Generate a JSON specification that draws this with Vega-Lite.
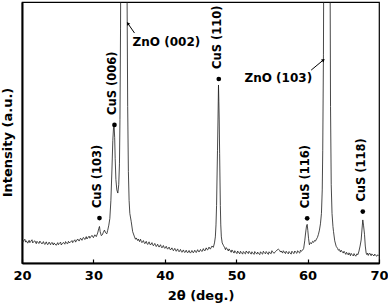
{
  "$schema": "https://vega.github.io/schema/vega-lite/v6.json",
  "width": 357,
  "height": 261,
  "autosize": {"type": "none"},
  "padding": {"left": 22, "top": 2, "right": 9, "bottom": 41},
  "background": "white",
  "config": {
    "view": {"stroke": "black", "strokeWidth": 1.2},
    "font": "DejaVu Sans"
  },
  "datasets": {
    "spectrum": [
      {"angle":20.0,"intensity":8.6},{"angle":20.1,"intensity":7.9},{"angle":20.2,"intensity":8.4},{"angle":20.4,"intensity":9.1},{"angle":20.5,"intensity":8.0},{"angle":20.6,"intensity":8.5},{"angle":20.8,"intensity":7.6},
      {"angle":21.0,"intensity":8.7},{"angle":21.1,"intensity":7.8},{"angle":21.2,"intensity":8.2},{"angle":21.4,"intensity":8.9},{"angle":21.5,"intensity":7.7},{"angle":21.6,"intensity":8.1},{"angle":21.8,"intensity":8.5},
      {"angle":22.0,"intensity":7.4},{"angle":22.1,"intensity":8.3},{"angle":22.2,"intensity":7.9},{"angle":22.4,"intensity":7.5},{"angle":22.5,"intensity":8.4},{"angle":22.6,"intensity":8.0},{"angle":22.8,"intensity":7.3},
      {"angle":23.0,"intensity":8.2},{"angle":23.1,"intensity":7.5},{"angle":23.2,"intensity":7.1},{"angle":23.4,"intensity":8.1},{"angle":23.5,"intensity":7.4},{"angle":23.6,"intensity":7.0},{"angle":23.8,"intensity":8.0},
      {"angle":24.0,"intensity":7.0},{"angle":24.1,"intensity":7.6},{"angle":24.2,"intensity":7.9},{"angle":24.4,"intensity":6.9},{"angle":24.5,"intensity":7.7},{"angle":24.6,"intensity":7.3},{"angle":24.8,"intensity":6.8},
      {"angle":25.0,"intensity":7.8},{"angle":25.1,"intensity":7.0},{"angle":25.2,"intensity":7.4},{"angle":25.4,"intensity":8.0},{"angle":25.5,"intensity":6.9},{"angle":25.6,"intensity":7.3},{"angle":25.8,"intensity":7.9},
      {"angle":26.0,"intensity":7.2},{"angle":26.1,"intensity":8.2},{"angle":26.2,"intensity":7.7},{"angle":26.4,"intensity":7.4},{"angle":26.5,"intensity":8.3},{"angle":26.6,"intensity":7.8},{"angle":26.8,"intensity":8.0},
      {"angle":27.0,"intensity":8.6},{"angle":27.1,"intensity":7.8},{"angle":27.2,"intensity":8.3},{"angle":27.4,"intensity":8.9},{"angle":27.5,"intensity":8.0},{"angle":27.6,"intensity":8.4},{"angle":27.8,"intensity":9.2},
      {"angle":28.0,"intensity":8.4},{"angle":28.1,"intensity":9.0},{"angle":28.2,"intensity":9.5},{"angle":28.4,"intensity":8.7},{"angle":28.5,"intensity":9.4},{"angle":28.6,"intensity":9.8},{"angle":28.8,"intensity":9.0},
      {"angle":29.0,"intensity":10.1},{"angle":29.1,"intensity":9.2},{"angle":29.2,"intensity":9.6},{"angle":29.4,"intensity":10.3},{"angle":29.5,"intensity":9.5},{"angle":29.6,"intensity":9.9},{"angle":29.8,"intensity":10.6},
      {"angle":30.0,"intensity":9.7},{"angle":30.1,"intensity":10.3},{"angle":30.2,"intensity":10.8},{"angle":30.4,"intensity":10.1},{"angle":30.6,"intensity":11.5},{"angle":30.75,"intensity":13.2},
      {"angle":30.85,"intensity":14.0},{"angle":30.95,"intensity":12.0},{"angle":31.1,"intensity":10.5},{"angle":31.25,"intensity":10.8},{"angle":31.4,"intensity":11.8},
      {"angle":31.55,"intensity":12.6},{"angle":31.7,"intensity":11.6},{"angle":31.88,"intensity":11.2},{"angle":32.0,"intensity":12.5},{"angle":32.16,"intensity":14.5},
      {"angle":32.3,"intensity":17},{"angle":32.45,"intensity":24},{"angle":32.6,"intensity":36},{"angle":32.72,"intensity":47},{"angle":32.82,"intensity":52},
      {"angle":32.9,"intensity":52.5},{"angle":32.98,"intensity":48},{"angle":33.05,"intensity":40},{"angle":33.15,"intensity":32},{"angle":33.28,"intensity":28},
      {"angle":33.42,"intensity":26.8},{"angle":33.55,"intensity":30},{"angle":33.65,"intensity":38},{"angle":33.72,"intensity":55},{"angle":33.8,"intensity":90},
      {"angle":33.88,"intensity":150},{"angle":34.0,"intensity":220},{"angle":34.3,"intensity":260},{"angle":34.6,"intensity":200},{"angle":34.7,"intensity":110},
      {"angle":34.8,"intensity":60},{"angle":34.9,"intensity":35},{"angle":35.0,"intensity":24},{"angle":35.1,"intensity":19},{"angle":35.29,"intensity":16},
      {"angle":35.5,"intensity":12},{"angle":35.76,"intensity":10},{"angle":35.9,"intensity":9.1},{"angle":36.0,"intensity":9.6},{"angle":36.2,"intensity":8.6},{"angle":36.3,"intensity":9.2},{"angle":36.46,"intensity":8.2},
      {"angle":36.6,"intensity":9.1},{"angle":36.7,"intensity":8.3},{"angle":36.8,"intensity":7.8},{"angle":37.0,"intensity":8.6},{"angle":37.1,"intensity":7.9},{"angle":37.2,"intensity":7.4},{"angle":37.4,"intensity":8.3},{"angle":37.5,"intensity":7.5},
      {"angle":37.6,"intensity":7.1},{"angle":37.8,"intensity":8.1},{"angle":37.9,"intensity":7.3},{"angle":38.0,"intensity":6.9},{"angle":38.2,"intensity":7.8},{"angle":38.3,"intensity":7.0},{"angle":38.4,"intensity":6.6},
      {"angle":38.6,"intensity":7.5},{"angle":38.7,"intensity":6.8},{"angle":38.8,"intensity":6.3},{"angle":39.0,"intensity":7.2},{"angle":39.1,"intensity":6.5},{"angle":39.2,"intensity":6.1},{"angle":39.4,"intensity":7.0},
      {"angle":39.5,"intensity":6.3},{"angle":39.6,"intensity":5.8},{"angle":39.8,"intensity":6.7},{"angle":39.9,"intensity":6.0},{"angle":40.0,"intensity":5.6},{"angle":40.2,"intensity":6.4},{"angle":40.3,"intensity":5.7},{"angle":40.4,"intensity":5.3},
      {"angle":40.6,"intensity":6.1},{"angle":40.7,"intensity":5.4},{"angle":40.8,"intensity":5.0},{"angle":41.0,"intensity":5.8},{"angle":41.1,"intensity":5.2},{"angle":41.2,"intensity":4.7},{"angle":41.4,"intensity":5.6},
      {"angle":41.5,"intensity":4.9},{"angle":41.6,"intensity":4.5},{"angle":41.8,"intensity":5.4},{"angle":41.9,"intensity":4.7},{"angle":42.0,"intensity":4.3},{"angle":42.2,"intensity":5.2},{"angle":42.3,"intensity":4.5},{"angle":42.4,"intensity":4.1},
      {"angle":42.6,"intensity":5.0},{"angle":42.7,"intensity":4.4},{"angle":42.8,"intensity":4.0},{"angle":43.0,"intensity":4.9},{"angle":43.1,"intensity":4.2},{"angle":43.2,"intensity":3.9},{"angle":43.4,"intensity":4.8},
      {"angle":43.5,"intensity":4.1},{"angle":43.6,"intensity":3.8},{"angle":43.8,"intensity":4.8},{"angle":43.9,"intensity":4.2},{"angle":44.0,"intensity":3.9},{"angle":44.2,"intensity":4.9},{"angle":44.3,"intensity":4.3},{"angle":44.4,"intensity":4.0},
      {"angle":44.6,"intensity":5.1},{"angle":44.7,"intensity":4.5},{"angle":44.8,"intensity":4.2},{"angle":45.0,"intensity":5.2},{"angle":45.1,"intensity":4.7},{"angle":45.2,"intensity":4.4},{"angle":45.4,"intensity":5.5},
      {"angle":45.5,"intensity":4.9},{"angle":45.6,"intensity":4.6},{"angle":45.8,"intensity":5.8},{"angle":45.9,"intensity":5.2},{"angle":46.0,"intensity":5.0},{"angle":46.2,"intensity":6.1},{"angle":46.3,"intensity":5.5},{"angle":46.4,"intensity":5.4},
      {"angle":46.6,"intensity":6.5},{"angle":46.8,"intensity":6.0},{"angle":46.96,"intensity":7.7},{"angle":47.08,"intensity":10},{"angle":47.17,"intensity":14.6},
      {"angle":47.25,"intensity":22},{"angle":47.31,"intensity":31.8},{"angle":47.38,"intensity":43},{"angle":47.45,"intensity":54.8},{"angle":47.52,"intensity":68.2},
      {"angle":47.57,"intensity":62},{"angle":47.62,"intensity":54.8},{"angle":47.68,"intensity":42},{"angle":47.73,"intensity":31.8},{"angle":47.78,"intensity":22},
      {"angle":47.84,"intensity":14.6},{"angle":47.92,"intensity":10},{"angle":48.04,"intensity":7.7},{"angle":48.2,"intensity":6.8},{"angle":48.36,"intensity":6.0},
      {"angle":48.5,"intensity":5.1},{"angle":48.6,"intensity":5.9},{"angle":48.7,"intensity":5.5},{"angle":48.9,"intensity":4.6},{"angle":49.0,"intensity":5.4},{"angle":49.1,"intensity":5.0},{"angle":49.3,"intensity":4.1},
      {"angle":49.4,"intensity":5.0},{"angle":49.5,"intensity":4.6},{"angle":49.7,"intensity":3.8},{"angle":49.8,"intensity":4.7},{"angle":49.9,"intensity":4.3},{"angle":50.1,"intensity":3.6},{"angle":50.2,"intensity":4.6},{"angle":50.3,"intensity":4.2},
      {"angle":50.5,"intensity":3.5},{"angle":50.6,"intensity":4.5},{"angle":50.7,"intensity":4.1},{"angle":50.9,"intensity":3.4},{"angle":51.0,"intensity":4.4},{"angle":51.1,"intensity":4.0},{"angle":51.3,"intensity":3.5},
      {"angle":51.4,"intensity":4.6},{"angle":51.5,"intensity":4.2},{"angle":51.7,"intensity":3.6},{"angle":51.8,"intensity":4.5},{"angle":51.9,"intensity":4.1},{"angle":52.1,"intensity":3.4},{"angle":52.2,"intensity":4.3},{"angle":52.3,"intensity":3.9},
      {"angle":52.5,"intensity":3.3},{"angle":52.6,"intensity":4.4},{"angle":52.7,"intensity":4.0},{"angle":52.9,"intensity":3.4},{"angle":53.0,"intensity":4.2},{"angle":53.1,"intensity":3.8},{"angle":53.3,"intensity":3.2},
      {"angle":53.4,"intensity":4.3},{"angle":53.5,"intensity":3.9},{"angle":53.7,"intensity":3.4},{"angle":53.8,"intensity":4.5},{"angle":53.9,"intensity":4.1},{"angle":54.1,"intensity":3.5},{"angle":54.2,"intensity":4.4},{"angle":54.3,"intensity":4.0},
      {"angle":54.5,"intensity":3.3},{"angle":54.6,"intensity":4.3},{"angle":54.7,"intensity":3.9},{"angle":54.9,"intensity":3.6},{"angle":55.0,"intensity":4.7},{"angle":55.1,"intensity":4.3},{"angle":55.3,"intensity":3.7},
      {"angle":55.5,"intensity":4.4},{"angle":55.7,"intensity":4.9},{"angle":55.9,"intensity":5.3},{"angle":56.1,"intensity":4.8},{"angle":56.2,"intensity":4.2},{"angle":56.3,"intensity":4.6},
      {"angle":56.5,"intensity":3.8},{"angle":56.6,"intensity":4.7},{"angle":56.7,"intensity":4.3},{"angle":56.9,"intensity":3.6},{"angle":57.0,"intensity":4.5},{"angle":57.1,"intensity":4.1},{"angle":57.3,"intensity":3.5},
      {"angle":57.4,"intensity":4.4},{"angle":57.5,"intensity":4.0},{"angle":57.7,"intensity":3.4},{"angle":57.8,"intensity":4.5},{"angle":57.9,"intensity":4.1},{"angle":58.1,"intensity":3.6},{"angle":58.2,"intensity":4.6},{"angle":58.3,"intensity":4.2},
      {"angle":58.5,"intensity":3.7},{"angle":58.6,"intensity":4.7},{"angle":58.7,"intensity":4.3},{"angle":58.9,"intensity":3.8},{"angle":59.0,"intensity":4.9},{"angle":59.1,"intensity":4.5},{"angle":59.3,"intensity":4.9},
      {"angle":59.45,"intensity":5.6},{"angle":59.6,"intensity":8.5},{"angle":59.72,"intensity":11.5},{"angle":59.85,"intensity":14.2},{"angle":59.94,"intensity":14.8},
      {"angle":60.03,"intensity":12.5},{"angle":60.13,"intensity":9.5},{"angle":60.25,"intensity":7.0},{"angle":60.4,"intensity":7.8},{"angle":60.54,"intensity":7.4},
      {"angle":60.7,"intensity":8.3},{"angle":60.85,"intensity":7.9},{"angle":60.96,"intensity":8.6},{"angle":61.1,"intensity":8.4},{"angle":61.25,"intensity":9.2},
      {"angle":61.38,"intensity":9.8},{"angle":61.52,"intensity":11},{"angle":61.66,"intensity":12.6},{"angle":61.8,"intensity":15},{"angle":61.94,"intensity":19},
      {"angle":62.05,"intensity":28},{"angle":62.12,"intensity":43},{"angle":62.22,"intensity":80},{"angle":62.3,"intensity":150},{"angle":62.46,"intensity":230},
      {"angle":62.8,"intensity":270},{"angle":63.07,"intensity":220},{"angle":63.15,"intensity":110},{"angle":63.21,"intensity":60},{"angle":63.31,"intensity":30},
      {"angle":63.42,"intensity":19},{"angle":63.55,"intensity":14},{"angle":63.63,"intensity":12},{"angle":63.8,"intensity":8.5},{"angle":64.0,"intensity":6.4},
      {"angle":64.2,"intensity":5.6},{"angle":64.3,"intensity":4.9},{"angle":64.45,"intensity":5.2},{"angle":64.6,"intensity":4.2},{"angle":64.7,"intensity":4.9},{"angle":64.8,"intensity":4.5},{"angle":65.0,"intensity":3.8},
      {"angle":65.1,"intensity":4.5},{"angle":65.2,"intensity":4.0},{"angle":65.35,"intensity":3.3},{"angle":65.45,"intensity":4.1},{"angle":65.55,"intensity":3.7},{"angle":65.7,"intensity":3.1},{"angle":65.8,"intensity":3.9},{"angle":65.9,"intensity":3.4},
      {"angle":66.0,"intensity":2.8},{"angle":66.1,"intensity":3.7},{"angle":66.2,"intensity":3.3},{"angle":66.4,"intensity":2.7},{"angle":66.5,"intensity":3.6},{"angle":66.6,"intensity":3.1},{"angle":66.75,"intensity":2.6},
      {"angle":66.9,"intensity":3.5},{"angle":67.05,"intensity":3.2},{"angle":67.2,"intensity":4.6},{"angle":67.35,"intensity":6.5},{"angle":67.5,"intensity":8.8},
      {"angle":67.62,"intensity":13},{"angle":67.73,"intensity":16.5},{"angle":67.83,"intensity":14.5},{"angle":67.97,"intensity":11},{"angle":68.08,"intensity":6.5},
      {"angle":68.2,"intensity":3.8},{"angle":68.3,"intensity":3.2},{"angle":68.4,"intensity":3.8},{"angle":68.5,"intensity":2.9},{"angle":68.6,"intensity":3.5},{"angle":68.7,"intensity":3.8},{"angle":68.9,"intensity":2.8},
      {"angle":69.0,"intensity":3.5},{"angle":69.1,"intensity":3.2},{"angle":69.3,"intensity":2.7},{"angle":69.4,"intensity":3.4},{"angle":69.5,"intensity":3.0},{"angle":69.7,"intensity":2.6},{"angle":69.8,"intensity":3.1},{"angle":69.95,"intensity":2.9}
    ],
    "cus": [
      {"label":"CuS (103)","angle":30.85,"intensity":17.2},
      {"label":"CuS (006)","angle":32.95,"intensity":52.9},
      {"label":"CuS (110)","angle":47.56,"intensity":70.5},
      {"label":"CuS (116)","angle":59.94,"intensity":17.1},
      {"label":"CuS (118)","angle":67.73,"intensity":19.7}
    ],
    "zno": [
      {"label":"ZnO (002)","angle":35.49,"intensity":84.7,"tail_angle":35.76,"tail_intensity":88.1,"head_angle":34.82,"head_intensity":91.8},
      {"label":"ZnO (103)","angle":51.16,"intensity":70.9,"tail_angle":60.5,"tail_intensity":73.9,"head_angle":62.22,"head_intensity":77.8}
    ]
  },
  "layer": [
    {
      "data": {"name": "spectrum"},
      "mark": {"type": "line", "clip": true, "color": "#1a1a1a", "strokeWidth": 0.8, "interpolate": "linear"},
      "encoding": {
        "x": {
          "field": "angle", "type": "quantitative",
          "scale": {"domain": [20, 70], "nice": false, "zero": false},
          "axis": {
            "title": "2θ (deg.)",
            "values": [20,25,30,35,40,45,50,55,60,65,70],
            "labelExpr": "datum.value % 10 === 0 ? datum.label : ''",
            "labelFlush": false,
            "labelFont": "DejaVu Sans", "labelFontSize": 13, "labelFontWeight": "bold", "labelColor": "black",
            "labelBaseline": "middle", "labelPadding": 16,
            "tickSize": -4, "tickColor": "black", "tickWidth": 1.2,
            "domainColor": "black", "domainWidth": 2,
            "grid": false,
            "titleFont": "DejaVu Sans", "titleFontSize": 13, "titleFontWeight": "bold", "titleColor": "black",
            "titleBaseline": "middle", "titleY": 32, "titleX": 178.5
          }
        },
        "y": {
          "field": "intensity", "type": "quantitative",
          "scale": {"domain": [0, 100], "nice": false},
          "axis": {
            "title": "Intensity (a.u.)",
            "labels": false, "ticks": false, "grid": false,
            "domainColor": "black", "domainWidth": 2,
            "titleFont": "DejaVu Sans", "titleFontSize": 13, "titleFontWeight": "bold", "titleColor": "black",
            "titleAngle": 270, "titleAlign": "center", "titleBaseline": "middle",
            "titleX": -15, "titleY": 140
          }
        }
      }
    },
    {
      "data": {"name": "cus"},
      "mark": {"type": "point", "filled": true, "shape": "circle", "size": 22, "color": "black", "opacity": 1},
      "encoding": {
        "x": {"field": "angle", "type": "quantitative"},
        "y": {"field": "intensity", "type": "quantitative"}
      }
    },
    {
      "data": {"name": "cus"},
      "mark": {"type": "text", "angle": 270, "align": "left", "baseline": "middle", "dx": 10, "dy": -1, "font": "DejaVu Sans", "fontSize": 11.5, "fontWeight": "bold", "color": "black"},
      "encoding": {
        "x": {"field": "angle", "type": "quantitative"},
        "y": {"field": "intensity", "type": "quantitative"},
        "text": {"field": "label"}
      }
    },
    {
      "data": {"name": "zno"},
      "mark": {"type": "text", "align": "left", "baseline": "middle", "font": "DejaVu Sans", "fontSize": 12, "fontWeight": "bold", "color": "black"},
      "encoding": {
        "x": {"field": "angle", "type": "quantitative"},
        "y": {"field": "intensity", "type": "quantitative"},
        "text": {"field": "label"}
      }
    },
    {
      "data": {"name": "zno"},
      "mark": {"type": "rule", "color": "black", "strokeWidth": 1},
      "encoding": {
        "x": {"field": "tail_angle", "type": "quantitative"},
        "y": {"field": "tail_intensity", "type": "quantitative"},
        "x2": {"field": "head_angle"},
        "y2": {"field": "head_intensity"}
      }
    },
    {
      "data": {"name": "zno"},
      "transform": [{"filter": "datum.label === 'ZnO (002)'"}],
      "mark": {"type": "point", "shape": "triangle-up", "filled": true, "size": 14, "angle": 325, "color": "black", "opacity": 1},
      "encoding": {
        "x": {"field": "head_angle", "type": "quantitative"},
        "y": {"field": "head_intensity", "type": "quantitative"}
      }
    },
    {
      "data": {"name": "zno"},
      "transform": [{"filter": "datum.label === 'ZnO (103)'"}],
      "mark": {"type": "point", "shape": "triangle-up", "filled": true, "size": 14, "angle": 51, "color": "black", "opacity": 1},
      "encoding": {
        "x": {"field": "head_angle", "type": "quantitative"},
        "y": {"field": "head_intensity", "type": "quantitative"}
      }
    }
  ]
}
